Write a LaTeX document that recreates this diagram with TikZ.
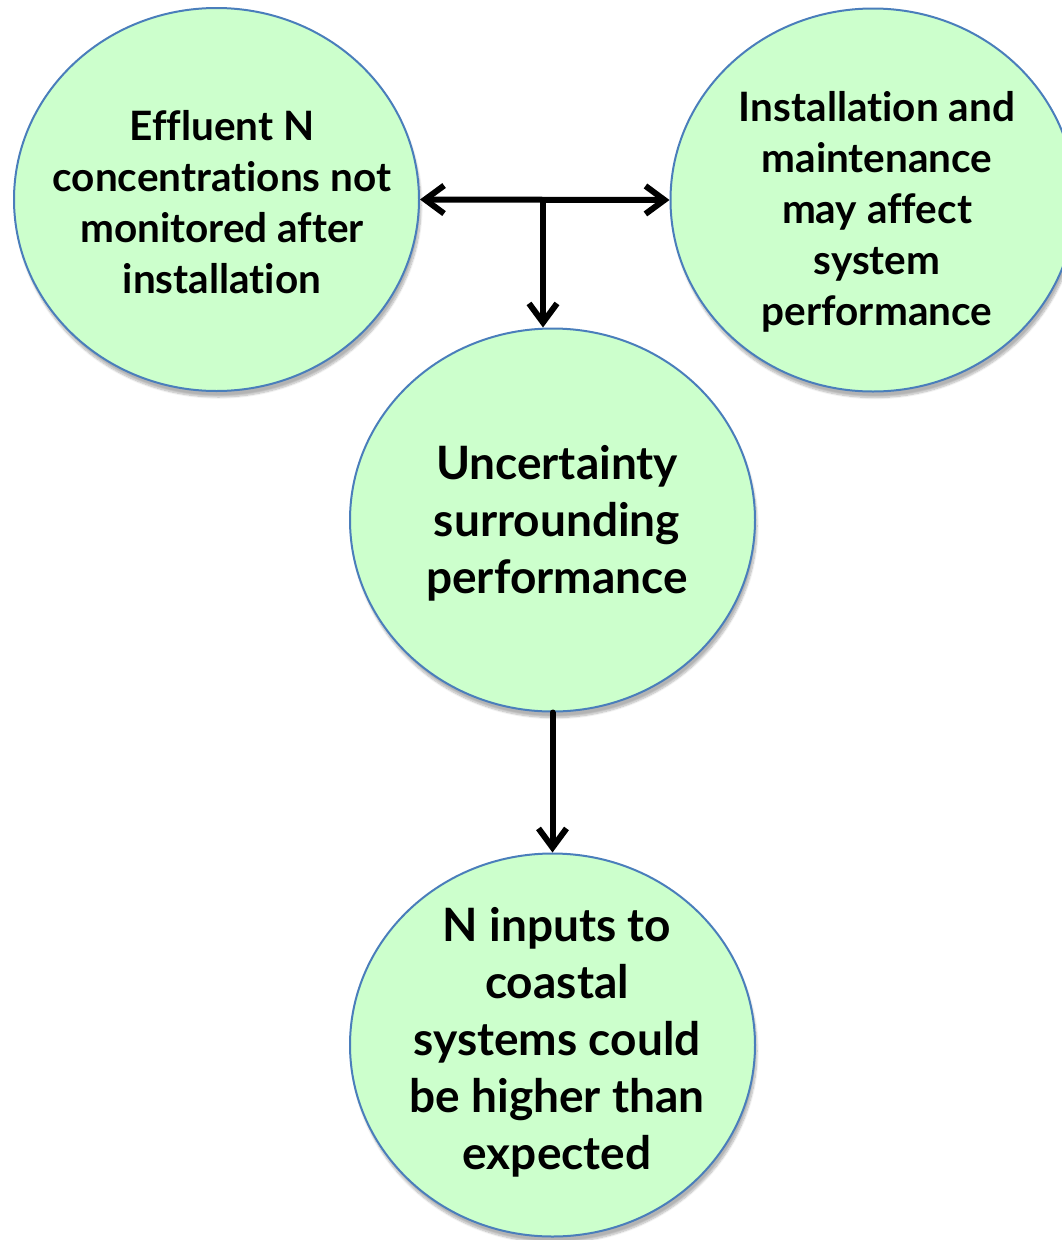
\documentclass[tikz,border=0pt]{standalone}
\usepackage{fontspec}
\setmainfont{Lato}[Ligatures=NoCommon]
\usetikzlibrary{shapes.geometric,arrows.meta,shadows.blur}
\definecolor{bubblefill}{HTML}{CCFFCC}
\definecolor{rim}{HTML}{4A7EBB}
\begin{document}
\begin{tikzpicture}[x=1pt,y=-1pt,
  bubble/.style={ellipse, draw=rim, line width=2pt, fill=bubblefill,
    minimum width=405pt, minimum height=383pt, inner sep=0pt,
    blur shadow={shadow xshift=2pt, shadow yshift=-6pt, shadow blur steps=10, shadow opacity=30}},
  smalltxt/.style={align=center, font=\bfseries\fontsize{40.5}{51}\selectfont, inner sep=0pt},
  bigtxt/.style={align=center, font=\bfseries\fontsize{46}{57}\selectfont, inner sep=0pt},
  conn/.style={line width=6pt, line cap=round, line join=round, -{Straight Barb[length=19pt, width=28pt, line width=6pt]}},
  conn2/.style={line width=6pt, line cap=round, line join=round,
    {Straight Barb[length=19pt, width=28pt, line width=6pt]}-{Straight Barb[length=19pt, width=28pt, line width=6pt]}}
]
\useasboundingbox (0,0) rectangle (1061,1240);
\node[bubble] (tl) at (216.5,199.5) {};
\node[bubble] (tr) at (873,200) {};
\node[bubble] (mid) at (552.5,520) {};
\node[bubble] (bot) at (552.5,1045) {};

\node[smalltxt] (tltext) at (222,202) {Effluent N\\concentrations not\\monitored after\\installation};
\node[smalltxt] (trtext) at (877,212) {Installation and\\maintenance\\may affect\\system\\performance};
\node[bigtxt] (midtext) at (557,523) {Uncertainty\\surrounding\\performance};
\node[bigtxt] (bottext) at (557,1042) {N inputs to\\coastal\\systems could\\be higher than\\expected};

\coordinate (j) at (543,200);
\draw[conn2] (tl.east) -- (tr.west);
\draw[conn] (j) -- (j |- mid.north);
\draw[conn] (mid.south) -- (bot.north);
\end{tikzpicture}
\end{document}
